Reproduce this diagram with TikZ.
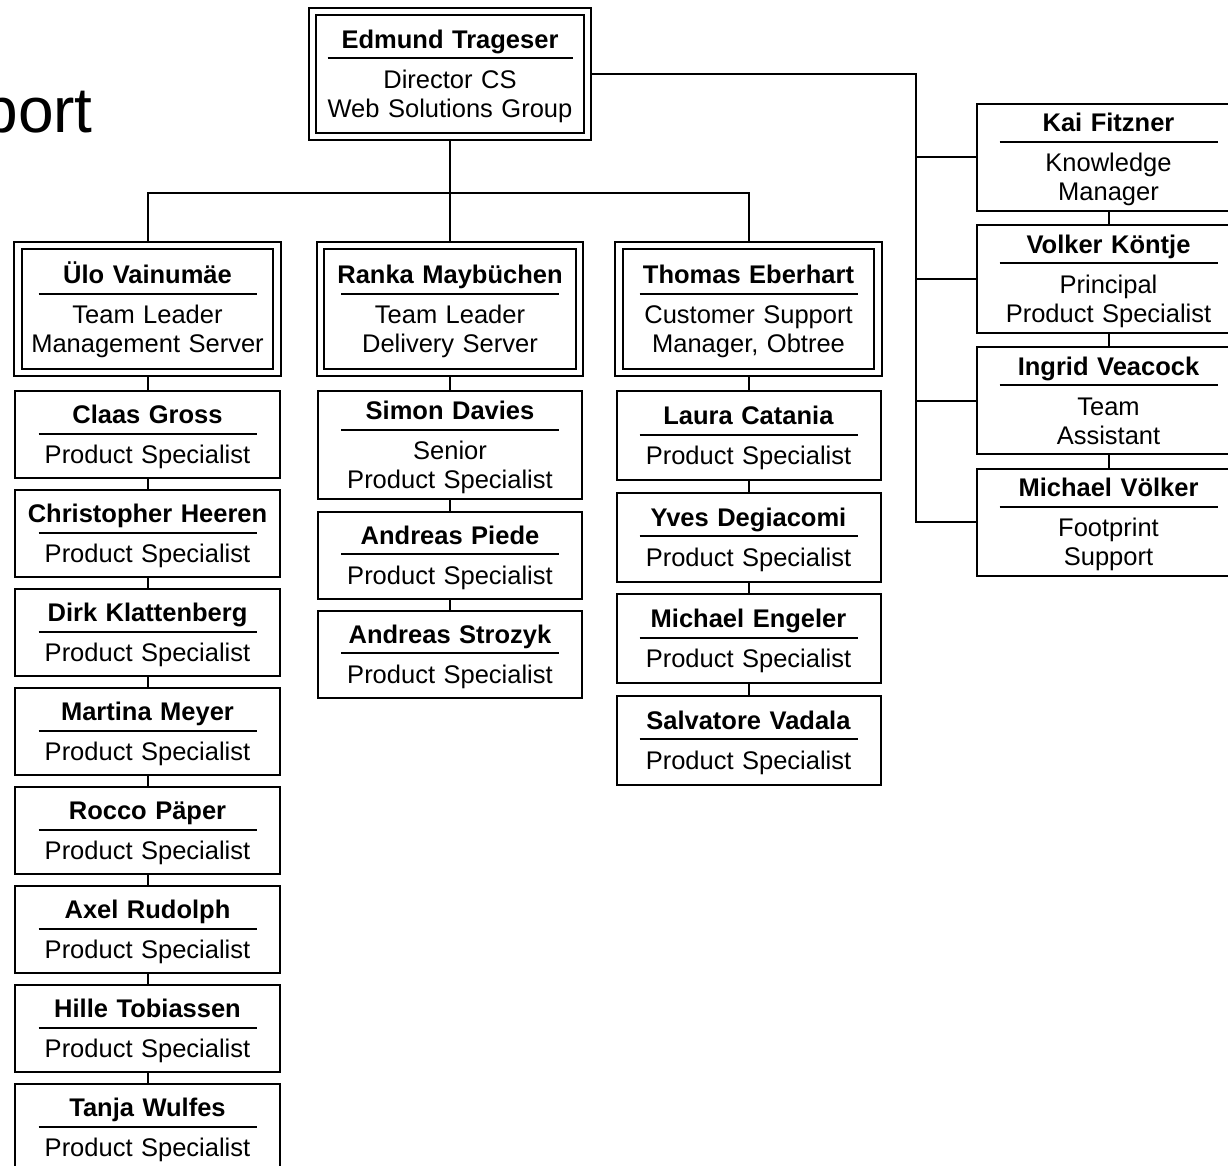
\documentclass[tikz,border=0pt]{standalone}
\usepackage{fontspec}
\setmainfont{Liberation Sans}
\usetikzlibrary{positioning}

\newcommand{\namerule}[1][218pt]{\rule[18pt]{#1}{2pt}}
\newcommand{\card}[2]{\rule{0pt}{24pt}\textbf{#1}\\\namerule\\[-18pt]#2\rule[-6pt]{0pt}{6pt}}

\begin{document}
\begin{tikzpicture}[
    x=1pt, y=-1pt,
    font=\fontsize{25.5}{29}\selectfont,
    node distance=10pt,
    person/.style={
        draw,
        line width=2pt,
        align=center,
        text width=#1,
        inner sep=2pt,
        minimum height=87pt
    },
    person/.default=260pt,
    lead/.style={
        person=#1,
        double,
        double distance=5.5pt,
        outer sep=4.75pt,
        minimum height=127pt
    },
    link/.style={line width=2pt}
]
\path[use as bounding box, clip] (0,0) rectangle (1228,1166);

\node[anchor=base east, inner sep=0pt, font=\fontsize{64}{70}\selectfont] (caption) at (93,133) {port};

\node[lead=271pt, minimum height=125pt] (trageser) at (450,74) {
    \rule{0pt}{24pt}\textbf{Edmund Trageser}\\
    \namerule[245pt]\\[-18pt]
    Director CS\\
    Web Solutions Group\rule[-6pt]{0pt}{6pt}
};

\node[lead=255pt] (vainumae) at (147.5,309) {\card{Ülo Vainumäe}{Team Leader\\Management Server}};
\node[lead=255pt] (maybuechen) at (450,309) {\card{Ranka Maybüchen}{Team Leader\\Delivery Server}};
\node[lead=255pt] (eberhart) at (748.5,309) {\card{Thomas Eberhart}{Customer Support\\Manager, Obtree}};

% management server team
\node[person=261pt, below=13pt of vainumae] (gross) {\card{Claas Gross}{Product Specialist}};
\node[person=261pt, below=of gross] (heeren) {\card{Christopher Heeren}{Product Specialist}};
\node[person=261pt, below=of heeren] (klattenberg) {\card{Dirk Klattenberg}{Product Specialist}};
\node[person=261pt, below=of klattenberg] (meyer) {\card{Martina Meyer}{Product Specialist}};
\node[person=261pt, below=of meyer] (paeper) {\card{Rocco Päper}{Product Specialist}};
\node[person=261pt, below=of paeper] (rudolph) {\card{Axel Rudolph}{Product Specialist}};
\node[person=261pt, below=of rudolph] (tobiassen) {\card{Hille Tobiassen}{Product Specialist}};
\node[person=261pt, below=of tobiassen] (wulfes) {\card{Tanja Wulfes}{Product Specialist}};

% delivery server team
\node[person, minimum height=108pt, below=13pt of maybuechen] (davies) {\card{Simon Davies}{Senior\\Product Specialist}};
\node[person, below=10.5pt of davies] (piede) {\card{Andreas Piede}{Product Specialist}};
\node[person, below=of piede] (strozyk) {\card{Andreas Strozyk}{Product Specialist}};

% obtree support
\node[person, minimum height=89pt, below=13pt of eberhart] (catania) {\card{Laura Catania}{Product Specialist}};
\node[person, minimum height=89pt, below=10.5pt of catania] (degiacomi) {\card{Yves Degiacomi}{Product Specialist}};
\node[person, minimum height=89pt, below=10.5pt of degiacomi] (engeler) {\card{Michael Engeler}{Product Specialist}};
\node[person, minimum height=89pt, below=10.5pt of engeler] (vadala) {\card{Salvatore Vadala}{Product Specialist}};

% staff
\node[person=259pt, minimum height=107pt] (fitzner) at (1108.5,157.5) {\card{Kai Fitzner}{Knowledge\\Manager}};
\node[person=259pt, minimum height=107pt, below=12.5pt of fitzner] (koentje) {\card{Volker Köntje}{Principal\\Product Specialist}};
\node[person=259pt, minimum height=107pt, below=12.5pt of koentje] (veacock) {\card{Ingrid Veacock}{Team\\Assistant}};
\node[person=259pt, minimum height=107pt, below=12.5pt of veacock] (voelker) {\card{Michael Völker}{Footprint\\Support}};

\coordinate (split) at (450,193);
\draw[link] (trageser) -- (maybuechen);
\draw[link] (vainumae.north) |- (split) -| (eberhart.north);

\draw[link] (trageser.east) -| ([xshift=-60pt]voelker.west) -- (voelker.west);
\foreach \n in {fitzner,koentje,veacock}
    \draw[link] (\n.west) -- ++(-60,0);

\foreach \a/\b in {vainumae/gross, gross/heeren, heeren/klattenberg,
    klattenberg/meyer, meyer/paeper, paeper/rudolph, rudolph/tobiassen,
    tobiassen/wulfes, maybuechen/davies, davies/piede, piede/strozyk,
    eberhart/catania, catania/degiacomi, degiacomi/engeler, engeler/vadala,
    fitzner/koentje, koentje/veacock, veacock/voelker}
    \draw[link] (\a) -- (\b);
\end{tikzpicture}
\end{document}
